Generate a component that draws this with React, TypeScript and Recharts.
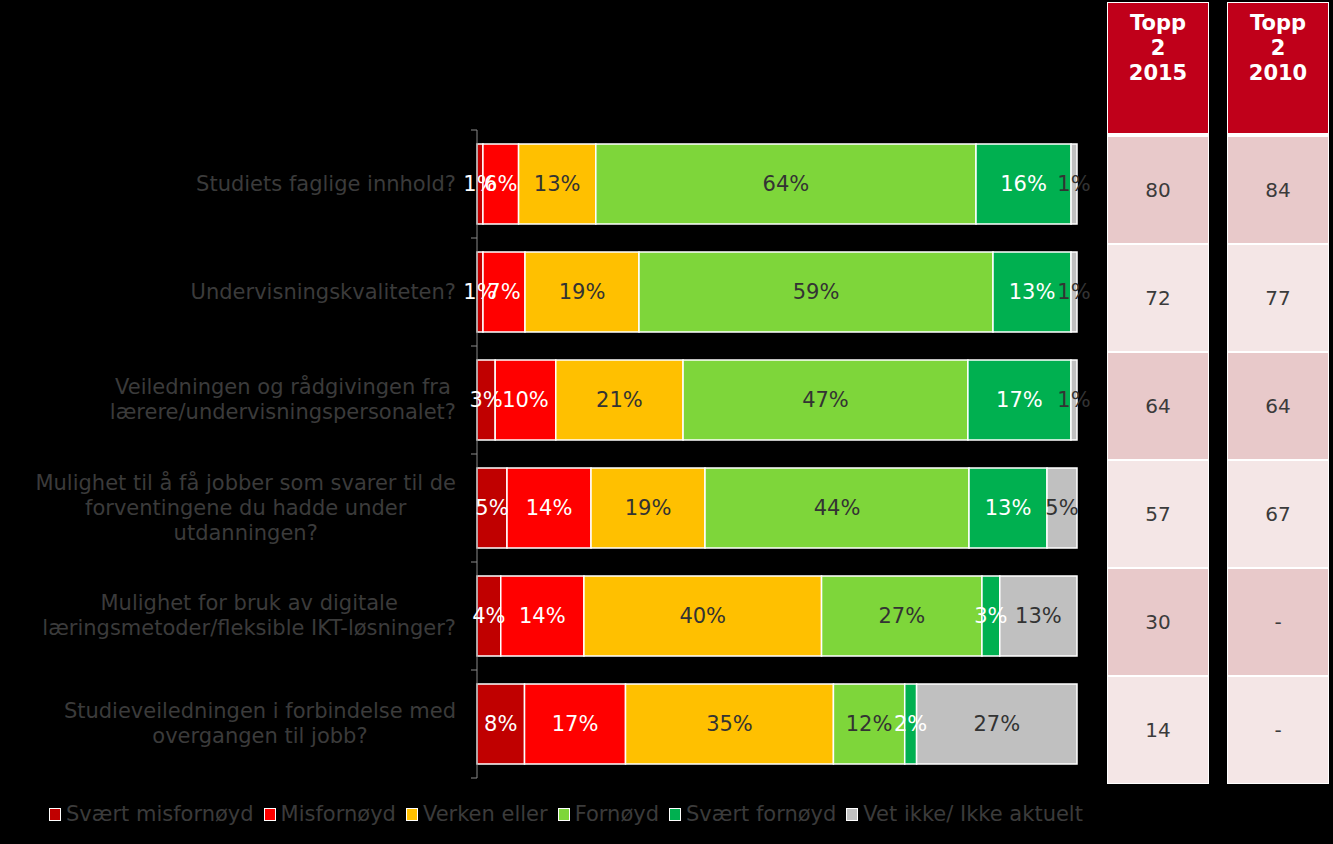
import { BarChart, Bar, XAxis, YAxis, LabelList, Legend } from 'recharts'

const categories = [
  'Studiets faglige innhold?',
  'Undervisningskvaliteten?',
  'Veiledningen og rådgivingen fra\nlærere/undervisningspersonalet?',
  'Mulighet til å få jobber som svarer til de\nforventingene du hadde under\nutdanningen?',
  'Mulighet for bruk av digitale\nlæringsmetoder/fleksible IKT-løsninger?',
  'Studieveiledningen i forbindelse med\novergangen til jobb?',
]

const sværtMisfornøyd = [1, 1, 3, 5, 4, 8]
const misfornøyd = [6, 7, 10, 14, 14, 17]
const verkenEller = [13, 19, 21, 19, 40, 35]
const fornøyd = [64, 59, 47, 44, 27, 12]
const sværtFornøyd = [16, 13, 17, 13, 3, 2]
const vetIkke = [1, 1, 1, 5, 13, 27]

const topp2015 = ['80', '72', '64', '57', '30', '14']
const topp2010 = ['84', '77', '64', '67', '-', '-']

const FONT = '"DejaVu Sans", Verdana, sans-serif'
const TEXT = '#3b3b3b'

const series = [
  { key: 'sm', name: 'Svært misfornøyd', color: '#c00000', label: '#ffffff', values: sværtMisfornøyd },
  { key: 'm', name: 'Misfornøyd', color: '#ff0000', label: '#ffffff', values: misfornøyd },
  { key: 've', name: 'Verken eller', color: '#ffc000', label: '#333333', values: verkenEller },
  { key: 'f', name: 'Fornøyd', color: '#7ed63a', label: '#333333', values: fornøyd },
  { key: 'sf', name: 'Svært fornøyd', color: '#00b050', label: '#ffffff', values: sværtFornøyd },
  { key: 'vi', name: 'Vet ikke/ Ikke aktuelt', color: '#c0c0c0', label: '#333333', values: vetIkke },
]

const data = categories.map((name, i) => {
  const row: Record<string, any> = { name }
  series.forEach((s) => {
    row[s.key] = s.values[i]
  })
  return row
})

// layout
const CHART_W = 1100
const CHART_H = 844
const MARGIN = { top: 130, right: 23, bottom: 15, left: 0 }
const LEGEND_H = 51
const AXIS_W = 477
const BAND = (CHART_H - MARGIN.top - MARGIN.bottom - LEGEND_H) / categories.length

const CategoryTick = ({ y, payload, index }: any) => {
  const lines = String(payload.value).split('\n')
  return (
    <g>
      <line x1={AXIS_W - 6} x2={AXIS_W} y1={y - BAND / 2} y2={y - BAND / 2} stroke="#8a8a8a" />
      {index === categories.length - 1 && (
        <line x1={AXIS_W - 6} x2={AXIS_W} y1={y + BAND / 2} y2={y + BAND / 2} stroke="#8a8a8a" />
      )}
      <foreignObject x={0} y={y - 50} width={456} height={100}>
        <div
          style={{
            height: '100%',
            display: 'flex',
            alignItems: 'center',
            justifyContent: 'flex-end',
          }}
        >
          <div
            style={{
              textAlign: 'center',
              fontFamily: FONT,
              fontSize: 21,
              lineHeight: '25px',
              color: TEXT,
              whiteSpace: 'nowrap',
            }}
          >
            {lines.map((l, i) => (
              <div key={i}>{l}</div>
            ))}
          </div>
        </div>
      </foreignObject>
    </g>
  )
}

const LegendContent = () => (
  <div
    style={{
      height: LEGEND_H,
      display: 'flex',
      alignItems: 'flex-end',
      paddingLeft: 49,
      fontFamily: FONT,
      fontSize: 21,
      color: TEXT,
      boxSizing: 'border-box',
    }}
  >
    {series.map((s) => (
      <div key={s.key} style={{ display: 'flex', alignItems: 'center', marginRight: 10, height: 30 }}>
        <span
          style={{
            display: 'inline-block',
            width: 10,
            height: 11,
            background: s.color,
            border: '1px solid #ffffff',
            marginRight: 5,
          }}
        />
        <span style={{ whiteSpace: 'nowrap' }}>{s.name}</span>
      </div>
    ))}
  </div>
)

const ToppColumn = ({ left, year, values }: { left: number; year: string; values: string[] }) => (
  <div
    style={{
      position: 'absolute',
      left,
      top: 2,
      width: 102,
      background: '#ffffff',
      padding: 1,
      boxSizing: 'border-box',
      display: 'flex',
      flexDirection: 'column',
      fontFamily: FONT,
    }}
  >
    <div
      style={{
        height: 130,
        background: '#c0001a',
        color: '#ffffff',
        fontWeight: 700,
        fontSize: 21,
        lineHeight: '25px',
        textAlign: 'center',
        paddingTop: 8,
        boxSizing: 'border-box',
        marginBottom: 4,
      }}
    >
      <div>Topp</div>
      <div>2</div>
      <div>{year}</div>
    </div>
    {values.map((v, i) => (
      <div
        key={i}
        style={{
          height: 106,
          marginTop: i === 0 ? 0 : 2,
          background: i % 2 === 0 ? '#e8c9ca' : '#f4e6e6',
          color: TEXT,
          fontSize: 20,
          display: 'flex',
          alignItems: 'center',
          justifyContent: 'center',
        }}
      >
        {v}
      </div>
    ))}
  </div>
)

export default function App() {
  return (
    <div
      style={{
        position: 'absolute',
        left: 0,
        top: 0,
        width: 1333,
        height: 844,
        background: '#000000',
        overflow: 'hidden',
      }}
    >
      <BarChart
        width={CHART_W}
        height={CHART_H}
        data={data}
        layout="vertical"
        stackOffset="expand"
        margin={MARGIN}
      >
        <XAxis type="number" hide />
        <YAxis
          type="category"
          dataKey="name"
          width={AXIS_W}
          axisLine={{ stroke: '#8a8a8a' }}
          tickLine={false}
          tick={<CategoryTick />}
          interval={0}
        />
        <Legend
          verticalAlign="bottom"
          align="left"
          content={<LegendContent />}
          wrapperStyle={{ left: 0, width: CHART_W }}
        />
        {series.map((s) => (
          <Bar
            key={s.key}
            dataKey={s.key}
            name={s.name}
            stackId="a"
            fill={s.color}
            stroke="#ffffff"
            strokeWidth={1.5}
            barSize={80}
            isAnimationActive={false}
          >
            <LabelList
              dataKey={s.key}
              position="center"
              fill={s.label}
              stroke="none"
              fontSize={21}
              fontFamily={FONT}
              formatter={(v: any) => `${v}%`}
            />
          </Bar>
        ))}
      </BarChart>
      <ToppColumn left={1107} year="2015" values={topp2015} />
      <ToppColumn left={1227} year="2010" values={topp2010} />
    </div>
  )
}
